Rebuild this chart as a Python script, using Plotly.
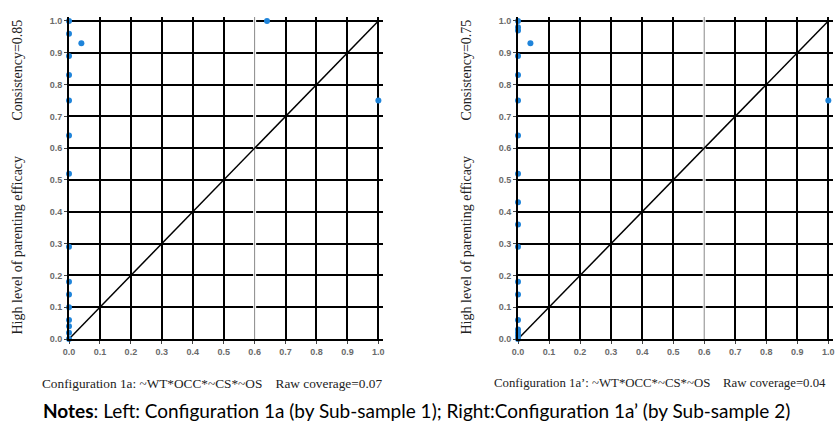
import plotly.graph_objects as go

W, H = 838, 423

# ---- data ----
left_x = [0, 0, 0, 0, 0, 0, 0, 0, 0, 0, 0, 0, 0, 0, 0, 0.04, 0.64, 1.0]
left_y = [1.0, 0.96, 0.89, 0.83, 0.75, 0.64, 0.52, 0.29, 0.18, 0.14, 0.10, 0.06, 0.04, 0.02, 0.0, 0.93, 1.0, 0.75]
right_x = [0, 0, 0, 0, 0, 0, 0, 0, 0, 0, 0, 0, 0, 0, 0, 0, 0, 0, 0.04, 1.0]
right_y = [1.0, 0.98, 0.97, 0.89, 0.83, 0.75, 0.64, 0.52, 0.43, 0.36, 0.29, 0.18, 0.14, 0.06, 0.03, 0.02, 0.01, 0.0, 0.93, 0.75]
diag = [0.0, 1.0]
tick_vals = [0.0, 0.1, 0.2, 0.3, 0.4, 0.5, 0.6, 0.7, 0.8, 0.9, 1.0]
tick_text = ["0.0", "0.1", "0.2", "0.3", "0.4", "0.5", "0.6", "0.7", "0.8", "0.9", "1.0"]
consistency = ["Consistency=0.85", "Consistency=0.75"]
captions = ["Configuration 1a: ~WT*OCC*~CS*~OS    Raw coverage=0.07",
            "Configuration 1a\u2019: ~WT*OCC*~CS*~OS    Raw coverage=0.04"]
notes = "<b>Notes</b>: Left: Configuration 1a (by Sub-sample 1); Right:Configuration 1a\u2019 (by Sub-sample 2)"
ytitle = "High level of parenting efficacy"

MARK = "#1f84da"

fig = go.Figure()

def px_x(p):
    return p / W

def px_y(p):
    return 1 - p / H

doms_x = [[px_x(69), px_x(383)], [px_x(518), px_x(833)]]
dom_y = [px_y(339), px_y(17)]

for i, (xs, ys) in enumerate([(left_x, left_y), (right_x, right_y)]):
    xa = "x" if i == 0 else "x2"
    ya = "y" if i == 0 else "y2"
    fig.add_trace(go.Scatter(x=diag, y=diag, mode="lines",
                             line=dict(color="black", width=1.5),
                             xaxis=xa, yaxis=ya, hoverinfo="skip"))
    fig.add_trace(go.Scatter(x=xs, y=ys, mode="markers",
                             marker=dict(color=MARK, size=6),
                             cliponaxis=False, xaxis=xa, yaxis=ya))

axis_common = dict(range=[0, 1.015], tickvals=tick_vals, ticktext=tick_text,
                   showgrid=True, gridcolor="black", gridwidth=2,
                   zeroline=False, showline=True, linecolor="black", linewidth=2,
                   ticks="outside", ticklen=3, tickcolor="#444", tickwidth=1,
                   automargin=False,
                   tickfont=dict(family="Liberation Sans", size=9, color="#6a6a6a",
                                 weight="bold"))

layout = dict(width=W, height=H,
              margin=dict(l=0, r=0, t=0, b=0, autoexpand=False),
              plot_bgcolor="white", paper_bgcolor="white", showlegend=False)
layout["xaxis"] = dict(axis_common, domain=doms_x[0], anchor="y")
layout["yaxis"] = dict(axis_common, domain=dom_y, anchor="x", range=[0, 1.0125])
layout["xaxis2"] = dict(axis_common, domain=doms_x[1], anchor="y2")
layout["yaxis2"] = dict(axis_common, domain=dom_y, anchor="x2", range=[0, 1.0125])
fig.update_layout(**layout)

# thin gray vertical line at 0.6 replacing black grid
for xa, ya in [("x", "y"), ("x2", "y2")]:
    fig.add_shape(type="line", xref=xa, yref=ya, x0=0.6, x1=0.6, y0=0, y1=1.0125,
                  line=dict(color="white", width=3), layer="between")
    fig.add_shape(type="line", xref=xa, yref=ya, x0=0.6, x1=0.6, y0=0, y1=1.0125,
                  line=dict(color="#888", width=1), layer="between")

serif = "Liberation Serif"
for i, tx in enumerate([17, 466]):
    fig.add_annotation(x=px_x(tx), y=px_y(337), xref="paper", yref="paper",
                       text=ytitle, textangle=-90, showarrow=False,
                       xanchor="center", yanchor="bottom",
                       font=dict(family=serif, size=14, color="#222"))
    fig.add_annotation(x=px_x(tx), y=px_y(18), xref="paper", yref="paper",
                       text=consistency[i], textangle=-90, showarrow=False,
                       xanchor="center", yanchor="top",
                       font=dict(family=serif, size=14, color="#222"))

for cx, cap, fs in zip([212, 660], captions, [13.3, 12.8]):
    fig.add_annotation(x=px_x(cx), y=px_y(383), xref="paper", yref="paper",
                       text=cap, showarrow=False, xanchor="center", yanchor="middle",
                       font=dict(family=serif, size=fs, color="#222"))

fig.add_annotation(x=px_x(41), y=px_y(410), xref="paper", yref="paper",
                   text=notes, showarrow=False, xanchor="left", yanchor="middle",
                   font=dict(family="Lato", size=19, color="black"))

fig.write_html("out.html",
               config={"displayModeBar": False},
               post_script="document.body.style.margin='0';"
                           "document.body.style.overflow='hidden';")
